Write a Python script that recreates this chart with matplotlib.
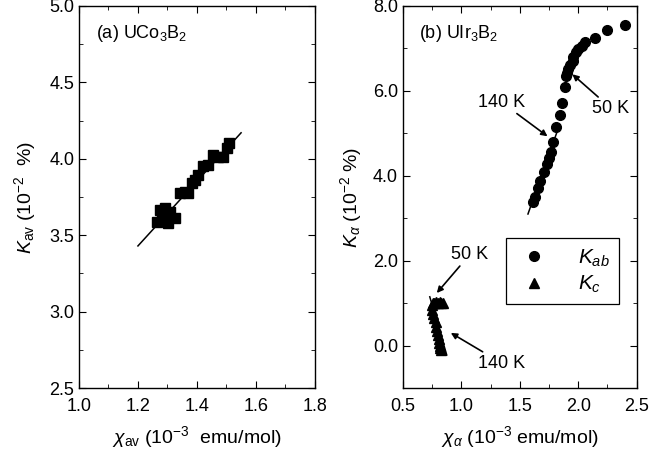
import matplotlib
matplotlib.use("Agg")
import matplotlib.pyplot as plt
from matplotlib.ticker import MultipleLocator, FormatStrFormatter

plt.rcParams['font.family'] = ['Liberation Sans', 'DejaVu Sans']
plt.rcParams['mathtext.fontset'] = 'custom'
plt.rcParams['mathtext.rm'] = 'Liberation Sans'
plt.rcParams['mathtext.it'] = 'Liberation Sans:italic'
plt.rcParams['mathtext.bf'] = 'Liberation Sans:bold'

# (a) UCo3B2
chi_av = [1.264, 1.275, 1.292, 1.308, 1.325, 1.302, 1.281, 1.298, 1.342, 1.359,
          1.369, 1.383, 1.393, 1.403, 1.420, 1.437, 1.454, 1.471, 1.488, 1.502, 1.508]
k_av = [3.586, 3.665, 3.678, 3.652, 3.613, 3.580, 3.619, 3.632, 3.776, 3.783,
        3.776, 3.842, 3.861, 3.894, 3.953, 3.959, 4.025, 4.012, 4.012, 4.071, 4.103]
fit_a_x = [1.20, 1.55]
fit_a_y = [3.43, 4.17]

# (b) UIr3B2
chi_ab = [1.609, 1.626, 1.652, 1.677, 1.703, 1.729, 1.746, 1.771, 1.788, 1.814,
          1.848, 1.865, 1.891, 1.899, 1.908, 1.916, 1.933, 1.951, 1.959, 1.985,
          2.002, 2.036, 2.060, 2.140, 2.250, 2.400]
k_ab = [3.39, 3.49, 3.72, 3.87, 4.08, 4.27, 4.43, 4.57, 4.79, 5.14,
        5.43, 5.71, 6.09, 6.35, 6.42, 6.51, 6.61, 6.70, 6.80, 6.91,
        6.98, 7.06, 7.15, 7.24, 7.43, 7.55]
fit_ab_x = [1.57, 1.84]
fit_ab_y = [3.10, 5.20]

chi_c = [0.845, 0.83, 0.815, 0.80, 0.785, 0.77, 0.755, 0.745, 0.75, 0.76,
         0.77, 0.78, 0.785, 0.79, 0.80, 0.805, 0.81, 0.815, 0.82, 0.83]
k_c = [1.00, 1.01, 1.02, 1.01, 1.02, 1.00, 1.01, 0.95, 0.85, 0.75,
       0.65, 0.55, 0.45, 0.35, 0.25, 0.15, 0.07, 0.00, -0.05, -0.10]
fit_c_x = [0.73, 0.875]
fit_c_y = [1.15, -0.22]

fig = plt.figure(figsize=(6.53, 4.55), dpi=100)
ax1 = fig.add_axes([0.121, 0.147, 0.361, 0.840])
ax2 = fig.add_axes([0.617, 0.147, 0.358, 0.840])

fs = 13

ax1.plot(fit_a_x, fit_a_y, color='black', lw=1.1)
ax1.plot(chi_av, k_av, 's', color='black', ms=6.5)
ax1.set_xlim(1.0, 1.8)
ax1.set_ylim(2.5, 5.0)
ax1.xaxis.set_major_locator(MultipleLocator(0.2))
ax1.xaxis.set_minor_locator(MultipleLocator(0.1))
ax1.yaxis.set_major_locator(MultipleLocator(0.5))
ax1.yaxis.set_minor_locator(MultipleLocator(0.25))
ax1.xaxis.set_major_formatter(FormatStrFormatter('%.1f'))
ax1.yaxis.set_major_formatter(FormatStrFormatter('%.1f'))
ax1.set_xlabel(r'$\chi_{\rm av}$ (10$^{-3}$  emu/mol)', fontsize=fs + 1)
ax1.set_ylabel(r'$K_{\rm av}$ (10$^{-2}$  %)', fontsize=fs + 1)
ax1.text(0.07, 0.955, r'(a) UCo$_3$B$_2$', transform=ax1.transAxes,
         fontsize=fs, va='top')

ax2.plot(fit_ab_x, fit_ab_y, color='black', lw=1.1)
ax2.plot(fit_c_x, fit_c_y, color='black', lw=1.1)
ax2.plot(chi_ab, k_ab, 'o', color='black', ms=7, label=r'$K_{ab}$')
ax2.plot(chi_c, k_c, '^', color='black', ms=6.5, label=r'$K_{c}$')
ax2.set_xlim(0.5, 2.5)
ax2.set_ylim(-1.0, 8.0)
ax2.xaxis.set_major_locator(MultipleLocator(0.5))
ax2.xaxis.set_minor_locator(MultipleLocator(0.25))
ax2.yaxis.set_major_locator(MultipleLocator(2.0))
ax2.yaxis.set_minor_locator(MultipleLocator(1.0))
ax2.xaxis.set_major_formatter(FormatStrFormatter('%.1f'))
ax2.yaxis.set_major_formatter(FormatStrFormatter('%.1f'))
ax2.set_xlabel(r'$\chi_{\alpha}$ (10$^{-3}$ emu/mol)', fontsize=fs + 1)
ax2.set_ylabel(r'$K_{\alpha}$ (10$^{-2}$ %)', fontsize=fs + 1)
ax2.text(0.07, 0.955, r'(b) UIr$_3$B$_2$', transform=ax2.transAxes,
         fontsize=fs, va='top')

arrow = dict(arrowstyle='-|>', color='black', lw=1.2, mutation_scale=9,
             shrinkA=0, shrinkB=0)
ax2.annotate('140 K', xy=(1.737, 4.93), xytext=(1.345, 5.73), fontsize=fs,
             ha='center', va='center', arrowprops=arrow)
ax2.annotate('50 K', xy=(1.95, 6.39), xytext=(2.28, 5.59), fontsize=fs,
             ha='center', va='center', arrowprops=arrow)
ax2.annotate('50 K', xy=(0.79, 1.24), xytext=(1.07, 2.14), fontsize=fs,
             ha='center', va='center', arrowprops=arrow)
ax2.annotate('140 K', xy=(0.91, 0.30), xytext=(1.345, -0.41), fontsize=fs,
             ha='center', va='center', arrowprops=arrow)

leg = ax2.legend(loc='upper left', bbox_to_anchor=(0.44, 0.393), fontsize=fs + 2,
                 frameon=True, fancybox=False, edgecolor='black', framealpha=1,
                 handletextpad=1.2, borderpad=0.45, labelspacing=0.25,
                 handlelength=1.8, borderaxespad=0)
leg.get_frame().set_linewidth(0.9)

for ax in (ax1, ax2):
    ax.tick_params(which='both', direction='in', top=True, right=True,
                   labelsize=fs)
    ax.tick_params(which='major', length=5)
    ax.tick_params(which='minor', length=3)
    ax.tick_params(axis='x', pad=7)
    for s in ax.spines.values():
        s.set_linewidth(1.0)

ax1.yaxis.set_label_coords(-0.175, 0.5)
ax2.yaxis.set_label_coords(-0.165, 0.5)
ax1.xaxis.set_label_coords(0.5, -0.095)
ax2.xaxis.set_label_coords(0.5, -0.095)

fig.savefig('out.png', dpi=100)
